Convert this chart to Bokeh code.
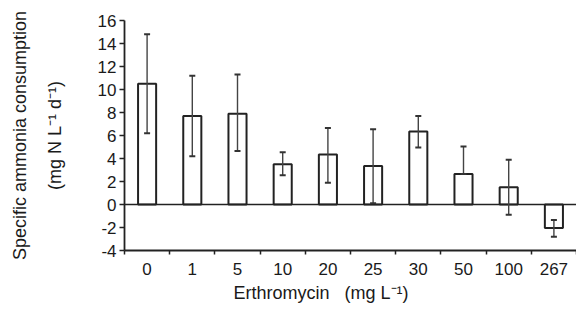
from bokeh.plotting import figure
from bokeh.models import ColumnDataSource, Range1d, FixedTicker, Whisker, TeeHead, Span, LinearAxis, Title
from bokeh.embed import file_html
from bokeh.resources import INLINE

# ---- data ----
categories = ["0", "1", "5", "10", "20", "25", "30", "50", "100", "267"]
values = [10.5, 7.7, 7.9, 3.5, 4.35, 3.35, 6.35, 2.65, 1.5, -2.05]
err_lower = [6.2, 4.2, 4.65, 2.55, 1.9, 0.1, 4.95, 2.65, -0.9, -2.8]
err_upper = [14.8, 11.2, 11.3, 4.55, 6.65, 6.55, 7.7, 5.05, 3.9, -1.35]
y_ticks = [-4, -2, 0, 2, 4, 6, 8, 10, 12, 14, 16]

x_title = "Erthromycin\u00a0\u00a0\u00a0(mg L\u207b\u00b9)"
y_title_1 = "Specific ammonia consumption"
y_title_2 = "(mg N L\u207b\u00b9 d\u207b\u00b9)"

FONT = "Liberation Sans"
TXT = "#1a1a1a"

n = len(categories)
centers = [i + 0.5 for i in range(n)]
bounds = list(range(n + 1))

src = ColumnDataSource(dict(x=centers, top=values, lower=err_lower, upper=err_upper))

p = figure(width=576, height=309, output_backend="svg", toolbar_location=None,
           x_range=Range1d(0, n), y_range=Range1d(-4, 16),
           min_border_left=124, min_border_right=0, min_border_top=20, min_border_bottom=59)
p.outline_line_color = None
p.xgrid.visible = False
p.ygrid.visible = False

p.vbar(x="x", top="top", bottom=0, width=0.40, source=src,
       fill_color="white", line_color="#222222", line_width=2)

p.add_layout(Span(location=0, dimension="width", line_color="#222222", line_width=1.6))

w = Whisker(source=src, base="x", lower="lower", upper="upper", level="annotation",
            line_color="#444444", line_width=1.4,
            upper_head=TeeHead(size=6, line_color="#333333", line_width=2),
            lower_head=TeeHead(size=6, line_color="#333333", line_width=2))
p.add_layout(w)

# x axis: labels at centres, ticks at category boundaries
xa = p.xaxis[0]
xa.ticker = FixedTicker(ticks=centers, minor_ticks=bounds)
xa.major_label_overrides = {c: lab for c, lab in zip(centers, categories)}
xa.major_tick_line_color = None
xa.major_tick_out = 0
xa.minor_tick_in = 0
xa.minor_tick_out = 4
xa.minor_tick_line_color = "#222222"
xa.minor_tick_line_width = 1.5
xa.axis_line_color = "#222222"
xa.axis_line_width = 1.8
xa.major_label_standoff = 8
xa.major_label_text_font = FONT
xa.major_label_text_font_size = "17px"
xa.major_label_text_color = TXT

# x-axis title (sits left of the frame centre in the reference)
p.add_layout(Title(text=x_title, align="left", offset=109, standoff=6,
                   text_font=FONT, text_font_size="18px", text_font_style="normal",
                   text_color=TXT), "below")

ya = p.yaxis[0]
ya.ticker = FixedTicker(ticks=y_ticks)
ya.major_label_overrides = {t: str(t) for t in y_ticks}
ya.major_tick_in = 0
ya.major_tick_out = 5
ya.major_tick_line_color = "#222222"
ya.major_tick_line_width = 1.5
ya.minor_tick_line_color = None
ya.axis_line_color = "#222222"
ya.axis_line_width = 1.8
ya.major_label_standoff = 3
ya.major_label_text_font = FONT
ya.major_label_text_font_size = "17px"
ya.major_label_text_color = TXT
ya.axis_label = y_title_2
ya.axis_label_text_font = FONT
ya.axis_label_text_font_size = "18px"
ya.axis_label_text_font_style = "normal"
ya.axis_label_text_color = TXT
ya.axis_label_standoff = 30

ya2 = LinearAxis(ticker=FixedTicker(ticks=[]), axis_line_color=None,
                 major_tick_line_color=None, minor_tick_line_color=None,
                 major_label_text_font_size="0px", major_tick_out=0, major_tick_in=0,
                 major_label_standoff=0,
                 axis_label=y_title_1, axis_label_text_font=FONT,
                 axis_label_text_font_size="18px", axis_label_text_font_style="normal",
                 axis_label_text_color=TXT, axis_label_standoff=12)
p.add_layout(ya2, "left")

open("out.html", "w").write(file_html(p, INLINE))
